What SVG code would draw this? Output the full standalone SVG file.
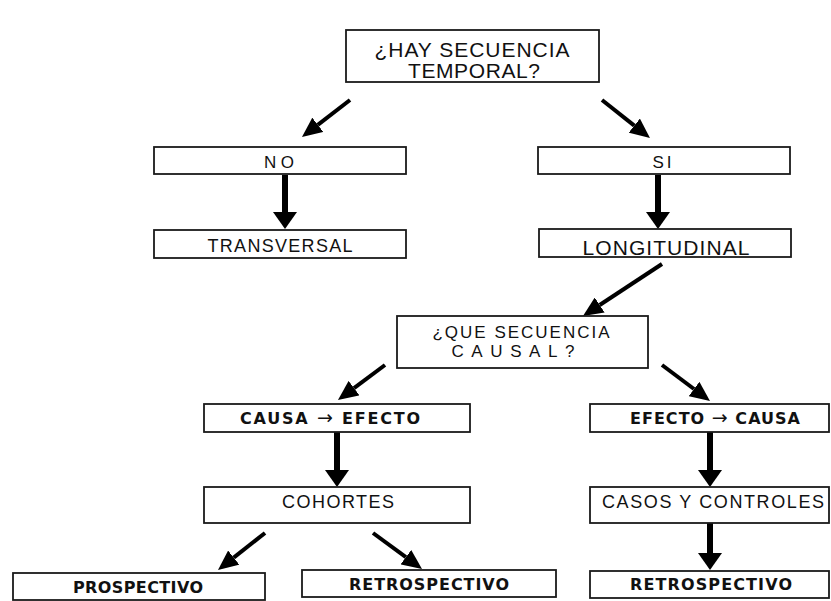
<svg xmlns="http://www.w3.org/2000/svg" width="831" height="601" viewBox="0 0 831 601">
<style>
.box{fill:#fff;stroke:#1a1a1a;stroke-width:1.8}
.t{font-family:"Liberation Sans",Arial,sans-serif;fill:#111;text-anchor:middle}
.b{font-family:"DejaVu Sans",Verdana,sans-serif;font-weight:bold}
.ar{font-family:"DejaVu Sans",sans-serif;font-weight:normal;font-size:19px}
.d{stroke:#000;stroke-width:4;fill:none;marker-end:url(#hd)}
.v{stroke:#000;stroke-width:6;fill:none;marker-end:url(#hv)}
</style>
<defs>
<marker id="hd" markerUnits="userSpaceOnUse" viewBox="0 0 20 18" markerWidth="20" markerHeight="18" refX="0" refY="9" orient="auto"><path d="M0,0 L20,9 L0,18 z" fill="#000"/></marker>
<marker id="hv" markerUnits="userSpaceOnUse" viewBox="0 0 17 24" markerWidth="17" markerHeight="24" refX="0" refY="12" orient="auto"><path d="M0,0 L17,12 L0,24 z" fill="#000"/></marker>
</defs>
<rect width="831" height="601" fill="#fff"/>
<g id="connectors">
<line class="d" x1="350" y1="100" x2="317.8" y2="124.8"/>
<line class="d" x1="602" y1="100" x2="634.3" y2="125.6"/>
<line class="d" x1="662" y1="264" x2="599.7" y2="305"/>
<line class="d" x1="385" y1="365" x2="354" y2="388.1"/>
<line class="d" x1="662" y1="365" x2="694" y2="389"/>
<line class="d" x1="265" y1="533" x2="233.7" y2="557.6"/>
<line class="d" x1="373" y1="533" x2="405.9" y2="557.2"/>
<line class="v" x1="285" y1="175" x2="285" y2="212"/>
<line class="v" x1="658" y1="175" x2="658" y2="212"/>
<line class="v" x1="337" y1="432" x2="337" y2="470"/>
<line class="v" x1="710" y1="432" x2="710" y2="470"/>
<line class="v" x1="710" y1="523" x2="710" y2="553"/>
</g>
<g id="n-temporal"><rect class="box" x="346" y="30" width="253" height="52"/>
<text class="t" x="472" y="57" font-size="21" textLength="195" lengthAdjust="spacing">¿HAY SECUENCIA</text>
<text class="t" x="474" y="78" font-size="21" textLength="132" lengthAdjust="spacing">TEMPORAL?</text></g>
<g id="n-no"><rect class="box" x="154" y="147" width="252" height="27"/>
<text class="t" x="279" y="168" font-size="17" textLength="30" lengthAdjust="spacing">N O</text></g>
<g id="n-si"><rect class="box" x="538" y="147" width="252" height="27"/>
<text class="t" x="662" y="168" font-size="17" textLength="19" lengthAdjust="spacing">SI</text></g>
<g id="n-transversal"><rect class="box" x="154" y="230" width="252" height="28"/>
<text class="t" x="280" y="252" font-size="18" textLength="145" lengthAdjust="spacing">TRANSVERSAL</text></g>
<g id="n-longitudinal"><rect class="box" x="539" y="229" width="252" height="28"/>
<text class="t" x="666" y="255" font-size="21" textLength="167" lengthAdjust="spacing">LONGITUDINAL</text></g>
<g id="n-causal"><rect class="box" x="397" y="316" width="251" height="52"/>
<text class="t" x="521" y="338" font-size="17" textLength="177" lengthAdjust="spacing">¿QUE SECUENCIA</text>
<text class="t" x="513" y="357" font-size="17" textLength="123" lengthAdjust="spacing">CAUSAL?</text></g>
<g id="n-causa-efecto"><rect class="box" x="204" y="404" width="266" height="28"/>
<text class="t b" x="330" y="424" font-size="16" textLength="180" lengthAdjust="spacing">CAUSA  <tspan class="ar">→</tspan> EFECTO</text></g>
<g id="n-efecto-causa"><rect class="box" x="590" y="404" width="239" height="28"/>
<text class="t b" x="715" y="424" font-size="16" textLength="170" lengthAdjust="spacing">EFECTO <tspan class="ar">→</tspan> CAUSA</text></g>
<g id="n-cohortes"><rect class="box" x="204" y="487" width="266" height="36"/>
<text class="t" x="338" y="508" font-size="18" textLength="112" lengthAdjust="spacing">COHORTES</text></g>
<g id="n-casos"><rect class="box" x="590" y="487" width="239" height="36"/>
<text class="t" x="713" y="508" font-size="18" textLength="222" lengthAdjust="spacing">CASOS Y CONTROLES</text></g>
<g id="n-prospectivo"><rect class="box" x="13" y="573" width="252" height="27"/>
<text class="t b" x="138" y="593" font-size="16" textLength="130" lengthAdjust="spacing">PROSPECTIVO</text></g>
<g id="n-retro1"><rect class="box" x="302" y="570" width="254" height="27"/>
<text class="t b" x="429" y="590" font-size="16" textLength="160" lengthAdjust="spacing">RETROSPECTIVO</text></g>
<g id="n-retro2"><rect class="box" x="590" y="571" width="239" height="27"/>
<text class="t b" x="711" y="590" font-size="16" textLength="162" lengthAdjust="spacing">RETROSPECTIVO</text></g>
</svg>
